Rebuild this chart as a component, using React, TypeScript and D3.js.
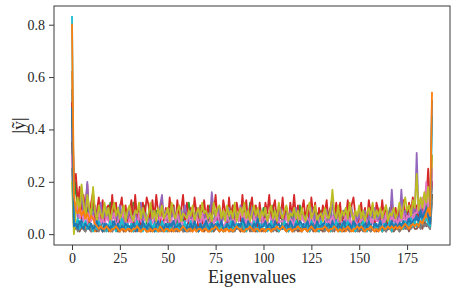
import React, { useEffect, useRef } from "react";
import * as d3 from "d3";

// |y~| per eigenvalue index, in hundredths
const blueA = [
  55,4,3,5,2,6,3,4,2,5, 3,2,4,6,3,2,5,3,4,2, 3,5,2,4,3,6,2,3,5,3, 2,4,3,5,2,3,6,4,2,3,
  5,3,2,4,6,3,2,5,3,4, 2,3,5,2,4,3,6,3,2,4, 3,5,2,3,4,2,5,3,6,2, 4,3,2,5,3,4,2,6,3,2,
  3,4,5,2,3,6,3,2,4,3, 5,2,3,4,2,3,5,3,2,4, 3,6,2,3,4,5,2,3,4,2, 5,3,2,4,3,2,6,3,4,2,
  3,4,2,5,3,2,4,6,3,2, 4,3,5,2,3,4,2,3,6,3, 2,4,3,5,2,3,4,2,5,3, 3,2,4,3,6,2,3,5,3,4,
  2,3,5,3,2,4,3,6,2,4, 3,5,2,4,6,3,5,4,7,5, 6,4,8,5,7,9,6,3,20,
];
const orangeA = [
  62,8,5,3,4,2,3,2,4,3, 2,3,1,2,3,2,1,3,2,2, 1,2,3,2,1,2,3,1,2,3, 2,1,2,3,2,1,2,2,3,1,
  2,3,1,2,2,3,1,2,3,2, 1,2,3,1,2,2,3,2,1,2, 3,2,1,2,3,1,2,3,2,1, 2,3,2,1,2,3,2,1,3,2,
  1,2,2,3,1,2,3,2,1,2, 3,1,2,2,3,2,1,2,3,2, 1,2,3,2,1,3,2,2,1,2, 3,2,1,2,3,2,1,3,2,1,
  2,3,2,1,2,2,3,1,2,3, 2,1,3,2,2,1,2,3,2,1, 2,2,3,1,2,3,2,1,2,3, 1,2,2,3,1,2,3,2,1,2,
  3,2,1,2,3,2,2,1,3,2, 2,3,2,4,3,2,4,3,5,4, 3,5,4,6,4,7,5,4,30,
];
const green = [
  45,12,20,9,14,7,11,6,10,8, 7,12,5,9,6,11,8,5,10,7, 12,6,9,4,8,11,6,10,5,7, 9,6,12,12,8,5,9,7,11,4,
  6,10,7,5,9,8,4,11,6,8, 5,9,7,11,6,4,8,10,5,7, 9,12,6,8,5,10,7,4,9,6, 8,5,11,7,4,9,6,10,5,8,
  6,9,5,7,11,4,8,6,10,7, 5,8,6,12,7,4,9,5,8,6, 10,6,4,8,7,11,5,9,6,8, 4,7,10,6,8,5,9,7,4,11,
  6,8,5,9,7,4,10,6,8,5, 9,6,7,4,8,10,5,7,9,6, 5,8,6,10,4,7,9,6,5,8, 7,4,9,6,8,5,10,7,4,6,
  9,5,7,8,4,6,10,5,8,7, 6,9,5,8,7,10,6,9,8,11, 7,10,8,12,9,11,10,6,15,
];
const red = [
  50,20,23,12,18,6,15,9,19,4, 12,16,3,9,14,5,13,4,10,11, 5,15,6,12,3,10,14,5,11,4, 8,13,4,15,6,10,3,12,7,14,
  11,4,13,6,15,8,3,12,5,10, 4,14,7,11,3,13,6,9,15,5, 12,4,10,5,14,8,3,11,4,13, 6,11,4,12,8,15,5,10,3,13,
  9,4,14,6,11,3,12,8,5,15, 7,13,4,10,14,5,11,3,12,6, 4,12,8,15,5,10,13,4,11,6, 14,5,10,3,12,7,15,6,11,4,
  9,13,5,11,4,14,7,12,3,10, 5,11,8,13,4,10,14,6,12,5, 12,4,9,6,13,5,11,14,7,4, 6,12,5,10,4,13,8,11,3,12,
  9,5,13,6,11,4,8,12,5,10, 4,11,6,13,8,5,12,9,14,7, 11,6,13,8,15,12,25,10,20,
];
const purple = [
  40,8,12,6,10,15,7,11,20,5, 9,6,11,4,8,12,5,7,10,6, 4,9,6,8,5,11,7,4,8,6, 10,5,7,9,4,6,12,5,8,7,
  6,4,9,5,8,7,11,15,6,9, 5,8,6,10,4,7,5,9,6,11, 7,5,9,4,8,6,10,5,7,9, 4,8,6,16,9,5,7,10,4,6,
  8,5,10,6,4,9,7,5,11,6, 5,9,4,7,10,6,8,5,9,4, 7,10,5,8,6,4,9,7,5,10, 6,4,8,5,9,7,4,10,6,8,
  9,5,7,4,6,10,5,8,4,7, 5,8,6,9,4,7,13,5,8,6, 4,7,9,5,8,4,10,6,7,5, 8,5,6,9,4,7,5,8,10,6,
  5,9,4,7,6,8,5,17,6,4, 7,5,17,6,9,5,8,6,10,7, 31,8,12,7,10,14,9,6,25,
];
const brown = [
  35,3,2,4,1,3,2,1,3,2, 1,2,3,1,2,4,1,2,3,1, 2,1,3,2,1,2,4,1,2,3, 1,3,2,1,2,3,1,4,2,1,
  3,1,2,2,4,1,2,3,1,2, 2,4,1,3,2,1,2,3,1,2, 1,2,3,1,4,2,1,2,3,1, 3,1,2,4,1,2,3,1,2,2,
  2,3,1,2,1,3,2,4,1,2, 1,2,4,1,3,2,1,2,3,1, 2,1,2,3,1,4,2,1,2,3, 3,2,1,2,4,1,3,2,1,2,
  1,3,2,1,2,3,1,4,2,1, 2,1,3,2,1,2,4,1,3,2, 4,2,1,3,2,1,2,3,1,2, 1,2,3,1,4,2,1,2,3,1,
  2,3,1,2,1,3,2,4,1,2, 3,1,2,4,2,3,1,3,4,2, 2,3,4,2,5,3,4,2,15,
];
const pink = [
  30,10,8,12,6,9,5,7,4,8, 5,7,3,6,8,4,6,3,7,5, 4,6,8,3,5,7,4,9,5,3, 6,4,7,5,3,8,5,4,6,7,
  3,5,4,7,6,3,8,5,4,6, 7,4,6,3,5,8,4,6,3,5, 5,8,3,6,4,7,5,3,8,4, 6,3,5,7,4,6,8,4,5,3,
  4,7,5,3,6,4,7,5,9,6, 8,4,6,5,3,7,4,6,5,8, 3,6,4,8,5,3,6,7,4,5, 5,3,7,4,6,5,3,8,6,4,
  7,5,4,6,3,8,5,4,7,5, 4,6,8,3,5,4,7,5,3,6, 6,4,5,7,4,6,3,8,5,4, 3,7,4,6,5,3,6,4,7,5,
  5,4,6,3,8,5,4,7,5,6, 4,6,5,8,4,7,6,9,5,8, 8,12,10,14,9,20,11,8,25,
];
const gray = [
  25,2,3,1,2,4,2,1,3,2, 1,3,2,2,1,3,2,1,2,3, 2,1,2,3,2,1,3,2,1,2, 3,2,1,2,3,2,1,2,3,1,
  2,3,2,1,2,3,2,1,2,2, 1,2,3,2,1,2,2,3,1,2, 2,1,2,3,2,2,1,2,3,2, 3,2,1,2,2,3,2,1,2,1,
  2,2,3,1,2,1,3,2,2,3, 1,3,2,2,1,2,3,1,2,2, 2,1,3,2,3,1,2,2,1,3, 3,2,2,1,2,3,1,2,3,2,
  1,2,3,2,1,2,2,3,1,2, 2,3,1,2,3,2,1,2,2,3, 3,1,2,3,2,1,2,3,2,1, 2,2,1,3,2,3,1,2,3,2,
  1,3,2,2,1,2,3,1,2,3, 2,1,3,2,3,2,4,2,3,4, 3,4,2,5,3,4,3,2,12,
];
const olive = [
  20,0,10,14,8,19,12,6,15,10, 7,18,9,5,11,8,6,12,7,10, 5,9,12,7,10,6,8,11,5,9, 11,7,5,9,8,12,6,10,7,5,
  8,12,6,9,5,10,7,11,6,8, 10,5,12,8,6,9,11,5,8,7, 6,9,7,11,5,8,10,6,12,8, 9,6,8,5,12,7,10,11,6,9,
  5,11,7,9,6,12,5,8,10,7, 12,6,9,5,8,11,7,10,5,9, 7,10,5,8,11,6,9,5,12,8, 6,9,11,5,8,7,10,6,9,5,
  10,7,5,9,12,6,8,11,5,7, 8,5,10,7,6,9,17,8,6,11, 5,9,7,10,6,12,8,5,9,7, 11,6,9,5,8,10,7,12,6,9,
  7,10,6,9,11,5,8,7,10,6, 8,12,6,10,14,9,11,7,13,10, 23,9,14,10,16,12,18,11,30,
];
const cyan = [
  83,5,3,6,2,4,3,5,2,4, 3,1,4,2,5,3,2,4,1,3, 5,2,3,1,4,2,6,3,2,4, 2,4,1,3,5,2,3,1,4,2,
  3,5,2,4,1,3,2,5,3,1, 4,2,3,5,2,4,1,3,2,5, 1,3,5,2,4,3,1,4,2,3, 5,2,4,1,3,2,5,2,4,1,
  3,4,2,5,1,3,4,2,3,5, 2,1,3,4,2,5,3,1,4,2, 4,3,1,2,5,2,4,3,1,3, 2,5,3,1,4,3,2,5,2,4,
  3,2,4,3,1,5,2,3,4,1, 5,3,2,4,3,1,4,2,5,3, 1,4,3,2,5,3,2,4,1,3, 4,2,5,3,1,4,3,2,4,2,
  3,5,1,4,2,3,5,1,3,4, 2,3,4,2,5,3,4,6,3,5, 3,5,4,7,5,6,4,3,45,
];
const blueB = [
  48,3,4,2,5,3,2,4,3,2, 4,2,3,5,2,3,1,4,2,3, 2,3,5,2,4,1,3,2,4,3, 3,2,4,3,1,4,2,5,3,2,
  4,3,2,1,3,5,2,3,2,4, 2,4,3,5,2,3,4,2,3,1, 3,2,4,2,5,3,1,4,2,3, 5,3,2,4,3,2,4,3,5,2,
  2,4,3,2,5,3,2,4,3,6, 4,2,5,3,2,4,3,6,2,3, 3,5,2,4,3,2,5,3,4,2, 2,3,4,2,5,3,2,4,3,5,
  4,2,3,5,2,4,3,2,5,3, 3,4,2,3,4,2,5,3,2,4, 2,3,5,2,3,4,2,5,3,2, 4,2,3,4,2,5,3,2,4,3,
  3,5,2,3,4,2,3,5,2,4, 2,4,3,5,3,4,6,4,5,6, 7,5,9,6,8,10,7,4,51,
];
const orangeB = [
  80,15,9,8,10,7,9,6,8,5, 7,6,4,3,2,3,2,2,3,2, 1,2,2,3,2,1,2,2,1,2, 2,1,2,2,3,2,1,2,2,1,
  1,2,1,2,2,1,3,2,1,2, 2,1,2,1,2,2,1,2,3,2, 1,2,2,1,2,1,2,2,1,2, 2,1,1,2,2,3,2,1,2,1,
  2,2,1,2,1,2,3,2,2,1, 1,2,2,3,2,1,2,2,1,2, 2,1,2,2,1,2,2,3,2,2, 3,2,1,2,2,1,2,2,3,2,
  1,2,2,1,2,3,2,1,2,2, 2,2,3,2,1,2,2,3,2,1, 2,1,2,2,3,2,1,2,2,3, 2,3,2,1,2,2,3,2,1,2,
  1,2,3,2,2,3,2,3,2,3, 2,3,2,3,4,3,2,3,4,3, 4,3,5,4,6,8,10,7,54,
];

const seriesList = [blueA, orangeA, green, red, purple, brown, pink, gray, olive, cyan, blueB, orangeB];
const colors = [
  "#1f77b4", "#ff7f0e", "#2ca02c", "#d62728", "#9467bd", "#8c564b",
  "#e377c2", "#7f7f7f", "#bcbd22", "#17becf", "#1f77b4", "#ff7f0e",
];
const xTicks = [0, 25, 50, 75, 100, 125, 150, 175];
const yTicks = [0, 0.2, 0.4, 0.6, 0.8];

const FONT = "'Liberation Serif', 'DejaVu Serif', serif";

export default function App() {
  const ref = useRef<SVGSVGElement>(null);

  useEffect(() => {
    const svg = d3.select(ref.current);
    svg.selectAll("*").remove();

    const left = 54, right = 450, top = 6, bottom = 245;
    const x = d3.scaleLinear().domain([-9.4, 197.4]).range([left, right]);
    const y = d3.scaleLinear().domain([-0.0415, 0.8715]).range([bottom, top]);

    const line = d3.line<number>()
      .x((d, i) => x(i))
      .y((d) => y(d / 100))
      .curve(d3.curveLinear);

    seriesList.forEach((s, k) => {
      svg.append("path")
        .datum(s)
        .attr("fill", "none")
        .attr("stroke", colors[k])
        .attr("stroke-width", 1.8)
        .attr("stroke-linejoin", "round")
        .attr("stroke-linecap", "square")
        .attr("d", line);
    });

    // frame
    svg.append("rect")
      .attr("x", left).attr("y", top)
      .attr("width", right - left).attr("height", bottom - top)
      .attr("fill", "none").attr("stroke", "#3a3a3a").attr("stroke-width", 1);

    const xAxis = svg.append("g")
      .attr("transform", "translate(0," + bottom + ")")
      .call(d3.axisBottom(x).tickValues(xTicks).tickSize(5).tickPadding(3).tickFormat(d3.format("d")));
    xAxis.select(".domain").remove();

    const yAxis = svg.append("g")
      .attr("transform", "translate(" + left + ",0)")
      .call(d3.axisLeft(y).tickValues(yTicks).tickSize(5).tickPadding(4).tickFormat(d3.format(".1f")));
    yAxis.select(".domain").remove();

    svg.selectAll(".tick line").attr("stroke", "#3a3a3a");
    svg.selectAll(".tick text")
      .attr("fill", "#262626")
      .style("font-family", FONT)
      .style("font-size", "14px");

    svg.append("text")
      .attr("x", (left + right) / 2)
      .attr("y", 283)
      .attr("text-anchor", "middle")
      .attr("fill", "#262626")
      .style("font-family", FONT)
      .style("font-size", "18px")
      .text("Eigenvalues");

    svg.append("text")
      .attr("transform", "translate(25," + (top + bottom) / 2 + ") rotate(-90)")
      .attr("text-anchor", "middle")
      .attr("fill", "#262626")
      .style("font-family", FONT)
      .style("font-size", "18px")
      .text("|ỹ|");
  }, []);

  return (
    <svg
      ref={ref}
      width={457}
      height={293}
      style={{ position: "absolute", left: 0, top: 0, background: "#fff" }}
    />
  );
}
